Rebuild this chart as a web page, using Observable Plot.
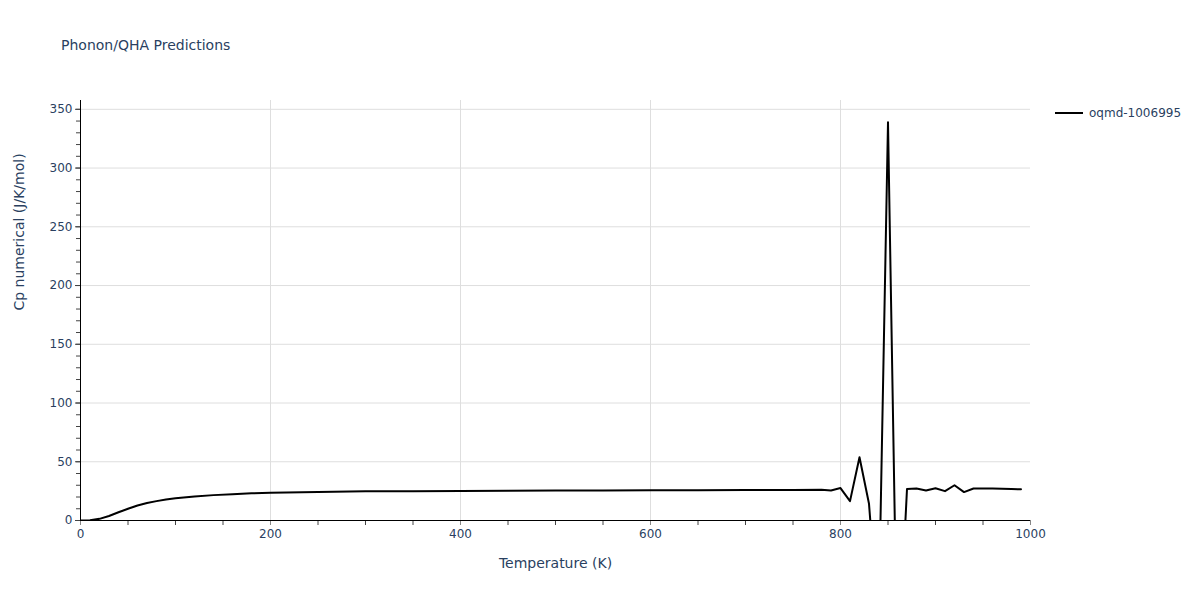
<!DOCTYPE html>
<html>
<head>
<meta charset="utf-8">
<script src="https://cdn.jsdelivr.net/npm/d3@7"></script>
<script src="https://cdn.jsdelivr.net/npm/@observablehq/plot@0.6"></script>
<style>
  html, body { margin: 0; padding: 0; background: #fff; }
  #wrap { position: relative; width: 1200px; height: 600px; font-family: "DejaVu Sans", Verdana, sans-serif; }
  #title { position: absolute; left: 61px; top: 37px; font-size: 14px; color: #2a3f5f; }
  #legend { position: absolute; left: 1055px; top: 106px; font-size: 12px; color: #2a3f5f; display: flex; align-items: center; }
  #legend .sw { width: 28px; height: 2px; background: #000; margin-right: 6px; }
  #chart { position: absolute; left: 0; top: 0; }
</style>
</head>
<body>
<div id="wrap">
  <div id="chart"></div>
  <div id="title">Phonon/QHA Predictions</div>
  <div id="legend"><div class="sw"></div><span>oqmd-1006995</span></div>
</div>
<script>
const seriesName = "oqmd-1006995";
const temperature = [0,10,20,30,40,50,60,70,80,90,100,120,140,160,180,200,250,300,350,400,450,500,550,600,650,700,750,780,790,800,810,820,830,840,850,860,870,880,890,900,910,920,930,940,950,960,970,980,990];
const cp = [0,0.2,1.4,3.8,7,10,12.8,14.9,16.5,17.9,19,20.5,21.6,22.4,23.1,23.6,24.2,24.8,25,25.2,25.4,25.5,25.6,25.7,25.8,25.9,26,26.1,25.6,27.6,16.5,53.9,14.2,-90,339,-135,26.8,27.2,25.5,27.5,25,30,24.2,27.2,27.3,27.2,27,26.8,26.6];
const xTicks = [0,200,400,600,800,1000];
const yTicks = [0,50,100,150,200,250,300,350];

const data = temperature.map((t, i) => ({T: t, Cp: cp[i]}));
const xMinor = d3.range(0, 1001, 50);
const yMinor = d3.range(0, 351, 10);
const textColor = "#2a3f5f";

const chart = Plot.plot({
  width: 1200,
  height: 600,
  marginLeft: 80,
  marginRight: 170,
  marginTop: 100,
  marginBottom: 80,
  style: {fontFamily: "DejaVu Sans, Verdana, sans-serif", fontSize: "12px", color: textColor, background: "#fff"},
  x: {domain: [0, 1000]},
  y: {domain: [0, 357.5]},
  marks: [
    Plot.gridX(xTicks.filter(d => d > 0 && d < 1000), {stroke: "#dedede", strokeOpacity: 1, strokeWidth: 1}),
    Plot.gridY(yTicks.filter(d => d > 0), {stroke: "#dedede", strokeOpacity: 1, strokeWidth: 1}),
    Plot.axisX(xMinor, {tickSize: 5, tickFormat: () => "", stroke: "#444", label: null}),
    Plot.axisX(xTicks, {tickSize: 5, tickPadding: 4, tickFormat: d3.format("d"), fill: textColor, stroke: "#888", label: null, fontSize: 12}),
    Plot.axisY(yMinor, {tickSize: 4, tickFormat: () => "", stroke: "#444", label: null}),
    Plot.axisY(yTicks, {tickSize: 5, tickPadding: 3, tickFormat: d3.format("d"), fill: textColor, stroke: "#444", label: null, fontSize: 12}),
    Plot.line(data, {x: "T", y: "Cp", stroke: "#000", strokeWidth: 2, clip: true}),
    Plot.ruleY([0], {stroke: "#000", strokeWidth: 1}),
    Plot.ruleX([0], {stroke: "#000", strokeWidth: 1}),
    Plot.text(["Temperature (K)"], {frameAnchor: "bottom", dy: 47, fontSize: 14, fill: textColor}),
    Plot.text(["Cp numerical (J/K/mol)"], {frameAnchor: "left", dx: -61, rotate: -90, fontSize: 14, fill: textColor})
  ]
});
document.getElementById("chart").appendChild(chart);
</script>
</body>
</html>
